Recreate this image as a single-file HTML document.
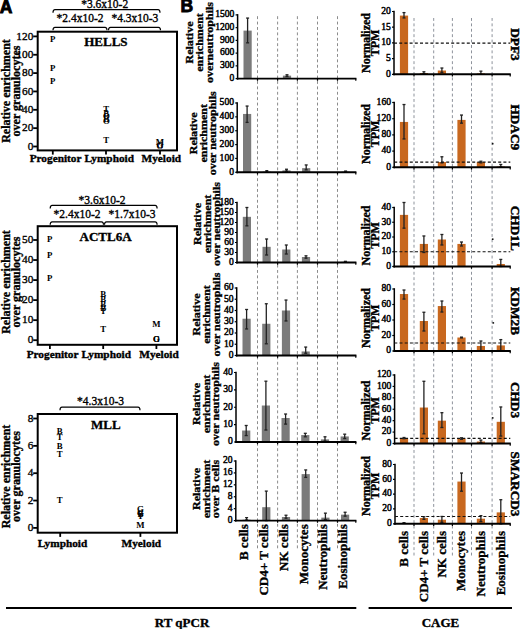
<!DOCTYPE html>
<html><head><meta charset="utf-8"><style>
html,body{margin:0;padding:0;background:#fff;}
svg{display:block;}
text{fill:#000;}
.b{font-family:"Liberation Serif",serif;font-weight:bold;}
.r{font-family:"Liberation Serif",serif;font-weight:normal;}
.s{font-family:"Liberation Sans",sans-serif;font-weight:bold;}
</style></head><body>
<svg width="520" height="629" viewBox="0 0 520 629">
<rect width="520" height="629" fill="#fff"/>
<text class="s" x="-0.30" y="12.60" font-size="17.5" stroke="#000" stroke-width="0.9">A</text>
<text class="s" x="180.60" y="12.20" font-size="17.5" stroke="#000" stroke-width="0.9">B</text>
<rect x="37.70" y="31.70" width="139.30" height="118.70" fill="none" stroke="#000" stroke-width="2"/>
<line x1="33.20" y1="146.50" x2="37.70" y2="146.50" stroke="#000" stroke-width="1.8"/>
<text class="r" x="33.30" y="149.70" font-size="11.3" text-anchor="end" stroke="#000" stroke-width="0.35">0</text>
<line x1="33.20" y1="128.15" x2="37.70" y2="128.15" stroke="#000" stroke-width="1.8"/>
<text class="r" x="33.30" y="131.35" font-size="11.3" text-anchor="end" stroke="#000" stroke-width="0.35">20</text>
<line x1="33.20" y1="109.80" x2="37.70" y2="109.80" stroke="#000" stroke-width="1.8"/>
<text class="r" x="33.30" y="113.00" font-size="11.3" text-anchor="end" stroke="#000" stroke-width="0.35">40</text>
<line x1="33.20" y1="91.45" x2="37.70" y2="91.45" stroke="#000" stroke-width="1.8"/>
<text class="r" x="33.30" y="94.65" font-size="11.3" text-anchor="end" stroke="#000" stroke-width="0.35">60</text>
<line x1="33.20" y1="73.10" x2="37.70" y2="73.10" stroke="#000" stroke-width="1.8"/>
<text class="r" x="33.30" y="76.30" font-size="11.3" text-anchor="end" stroke="#000" stroke-width="0.35">80</text>
<line x1="33.20" y1="54.75" x2="37.70" y2="54.75" stroke="#000" stroke-width="1.8"/>
<text class="r" x="33.30" y="57.95" font-size="11.3" text-anchor="end" stroke="#000" stroke-width="0.35">100</text>
<line x1="33.20" y1="36.40" x2="37.70" y2="36.40" stroke="#000" stroke-width="1.8"/>
<text class="r" x="33.30" y="39.60" font-size="11.3" text-anchor="end" stroke="#000" stroke-width="0.35">120</text>
<line x1="52.80" y1="150.40" x2="52.80" y2="154.60" stroke="#000" stroke-width="1.8"/>
<text class="b" x="55.60" y="162.20" font-size="11.3" text-anchor="middle" stroke="#000" stroke-width="0.35">Progenitor</text>
<line x1="106.00" y1="150.40" x2="106.00" y2="154.60" stroke="#000" stroke-width="1.8"/>
<text class="b" x="109.20" y="162.20" font-size="11.3" text-anchor="middle" stroke="#000" stroke-width="0.35">Lymphoid</text>
<line x1="160.00" y1="150.40" x2="160.00" y2="154.60" stroke="#000" stroke-width="1.8"/>
<text class="b" x="161.30" y="162.20" font-size="11.3" text-anchor="middle" stroke="#000" stroke-width="0.35">Myeloid</text>
<text class="b" x="84.20" y="45.60" font-size="13" stroke="#000" stroke-width="0.35">HELLS</text>
<text class="b" x="52.70" y="42.00" font-size="8.8" text-anchor="middle" stroke="#000" stroke-width="0.05">P</text>
<text class="b" x="52.70" y="70.50" font-size="8.8" text-anchor="middle" stroke="#000" stroke-width="0.05">P</text>
<text class="b" x="52.70" y="84.00" font-size="8.8" text-anchor="middle" stroke="#000" stroke-width="0.05">P</text>
<text class="b" x="106.30" y="111.60" font-size="8.8" text-anchor="middle" stroke="#000" stroke-width="0.05">T</text>
<text class="b" x="106.30" y="116.00" font-size="8.8" text-anchor="middle" stroke="#000" stroke-width="0.05">B</text>
<text class="b" x="106.30" y="119.00" font-size="8.8" text-anchor="middle" stroke="#000" stroke-width="0.05">O</text>
<text class="b" x="106.30" y="122.30" font-size="8.8" text-anchor="middle" stroke="#000" stroke-width="0.05">B</text>
<text class="b" x="106.30" y="123.80" font-size="8.8" text-anchor="middle" stroke="#000" stroke-width="0.05">O</text>
<text class="b" x="106.30" y="143.20" font-size="8.8" text-anchor="middle" stroke="#000" stroke-width="0.05">T</text>
<text class="b" x="160.00" y="144.50" font-size="8.8" text-anchor="middle" stroke="#000" stroke-width="0.05">M</text>
<text class="b" x="160.00" y="147.50" font-size="8.8" text-anchor="middle" stroke="#000" stroke-width="0.05">G</text>
<text class="b" x="160.00" y="148.50" font-size="8.8" text-anchor="middle" stroke="#000" stroke-width="0.05">O</text>
<text class="b" transform="translate(10.00,91.00) rotate(-90)" font-size="12" text-anchor="middle" stroke="#000" stroke-width="0.35">Relative enrichment</text>
<text class="b" transform="translate(19.60,91.00) rotate(-90)" font-size="12" text-anchor="middle" stroke="#000" stroke-width="0.35">over granulocytes</text>
<path d="M53.0,12.7 Q53.0,9.7 55.0,9.7 L158.0,9.7 Q160.0,9.7 160.0,12.7" stroke="#000" stroke-width="1.2" fill="none"/>
<path d="M53.0,30.3 Q53.0,27.3 55.0,27.3 L105.0,27.3 Q107.0,27.3 107.0,30.3" stroke="#000" stroke-width="1.2" fill="none"/>
<path d="M108.5,30.3 Q108.5,27.3 110.5,27.3 L158.5,27.3 Q160.5,27.3 160.5,30.3" stroke="#000" stroke-width="1.2" fill="none"/>
<text class="r" x="81.20" y="7.80" font-size="11.5" stroke="#000" stroke-width="0.35">*3.6x10-2</text>
<text class="r" x="56.60" y="22.20" font-size="11.5" stroke="#000" stroke-width="0.35">*2.4x10-2</text>
<text class="r" x="111.40" y="22.20" font-size="11.5" stroke="#000" stroke-width="0.35">*4.3x10-3</text>
<rect x="37.70" y="226.20" width="139.30" height="118.60" fill="none" stroke="#000" stroke-width="2"/>
<line x1="33.20" y1="340.20" x2="37.70" y2="340.20" stroke="#000" stroke-width="1.8"/>
<text class="r" x="33.30" y="343.40" font-size="11.3" text-anchor="end" stroke="#000" stroke-width="0.35">0</text>
<line x1="33.20" y1="320.16" x2="37.70" y2="320.16" stroke="#000" stroke-width="1.8"/>
<text class="r" x="33.30" y="323.36" font-size="11.3" text-anchor="end" stroke="#000" stroke-width="0.35">10</text>
<line x1="33.20" y1="300.12" x2="37.70" y2="300.12" stroke="#000" stroke-width="1.8"/>
<text class="r" x="33.30" y="303.32" font-size="11.3" text-anchor="end" stroke="#000" stroke-width="0.35">20</text>
<line x1="33.20" y1="280.08" x2="37.70" y2="280.08" stroke="#000" stroke-width="1.8"/>
<text class="r" x="33.30" y="283.28" font-size="11.3" text-anchor="end" stroke="#000" stroke-width="0.35">30</text>
<line x1="33.20" y1="260.04" x2="37.70" y2="260.04" stroke="#000" stroke-width="1.8"/>
<text class="r" x="33.30" y="263.24" font-size="11.3" text-anchor="end" stroke="#000" stroke-width="0.35">40</text>
<line x1="33.20" y1="240.00" x2="37.70" y2="240.00" stroke="#000" stroke-width="1.8"/>
<text class="r" x="33.30" y="243.20" font-size="11.3" text-anchor="end" stroke="#000" stroke-width="0.35">50</text>
<line x1="49.90" y1="344.80" x2="49.90" y2="349.00" stroke="#000" stroke-width="1.8"/>
<text class="b" x="52.60" y="358.40" font-size="11.3" text-anchor="middle" stroke="#000" stroke-width="0.35">Progenitor</text>
<line x1="103.20" y1="344.80" x2="103.20" y2="349.00" stroke="#000" stroke-width="1.8"/>
<text class="b" x="106.20" y="358.40" font-size="11.3" text-anchor="middle" stroke="#000" stroke-width="0.35">Lymphoid</text>
<line x1="156.40" y1="344.80" x2="156.40" y2="349.00" stroke="#000" stroke-width="1.8"/>
<text class="b" x="159.00" y="358.40" font-size="11.3" text-anchor="middle" stroke="#000" stroke-width="0.35">Myeloid</text>
<text class="b" x="79.60" y="240.50" font-size="13" stroke="#000" stroke-width="0.35">ACTL6A</text>
<text class="b" x="49.60" y="242.00" font-size="8.8" text-anchor="middle" stroke="#000" stroke-width="0.05">P</text>
<text class="b" x="49.60" y="258.30" font-size="8.8" text-anchor="middle" stroke="#000" stroke-width="0.05">P</text>
<text class="b" x="49.60" y="280.60" font-size="8.8" text-anchor="middle" stroke="#000" stroke-width="0.05">P</text>
<text class="b" x="103.30" y="297.00" font-size="8.8" text-anchor="middle" stroke="#000" stroke-width="0.05">B</text>
<text class="b" x="103.30" y="302.00" font-size="8.8" text-anchor="middle" stroke="#000" stroke-width="0.05">B</text>
<text class="b" x="103.30" y="306.50" font-size="8.8" text-anchor="middle" stroke="#000" stroke-width="0.05">B</text>
<text class="b" x="103.30" y="311.00" font-size="8.8" text-anchor="middle" stroke="#000" stroke-width="0.05">B</text>
<text class="b" x="103.30" y="313.50" font-size="8.8" text-anchor="middle" stroke="#000" stroke-width="0.05">T</text>
<text class="b" x="103.30" y="331.60" font-size="8.8" text-anchor="middle" stroke="#000" stroke-width="0.05">T</text>
<text class="b" x="156.30" y="327.30" font-size="8.8" text-anchor="middle" stroke="#000" stroke-width="0.05">M</text>
<text class="b" x="156.30" y="341.50" font-size="8.8" text-anchor="middle" stroke="#000" stroke-width="0.05">G</text>
<text class="b" x="156.30" y="341.50" font-size="8.8" text-anchor="middle" stroke="#000" stroke-width="0.05">O</text>
<text class="b" transform="translate(10.00,282.00) rotate(-90)" font-size="12" text-anchor="middle" stroke="#000" stroke-width="0.35">Relative enrichment</text>
<text class="b" transform="translate(19.60,282.00) rotate(-90)" font-size="12" text-anchor="middle" stroke="#000" stroke-width="0.35">over granulocytes</text>
<path d="M50.2,208.4 Q50.2,205.4 52.2,205.4 L155.1,205.4 Q157.1,205.4 157.1,208.4" stroke="#000" stroke-width="1.2" fill="none"/>
<path d="M50.2,224.8 Q50.2,221.8 52.2,221.8 L101.5,221.8 Q103.5,221.8 103.5,224.8" stroke="#000" stroke-width="1.2" fill="none"/>
<path d="M104.5,224.8 Q104.5,221.8 106.5,221.8 L155.1,221.8 Q157.1,221.8 157.1,224.8" stroke="#000" stroke-width="1.2" fill="none"/>
<text class="r" x="78.50" y="203.60" font-size="11.5" stroke="#000" stroke-width="0.35">*3.6x10-2</text>
<text class="r" x="53.60" y="218.20" font-size="11.5" stroke="#000" stroke-width="0.35">*2.4x10-2</text>
<text class="r" x="108.60" y="218.20" font-size="11.5" stroke="#000" stroke-width="0.35">*1.7x10-3</text>
<rect x="37.70" y="414.00" width="139.30" height="118.70" fill="none" stroke="#000" stroke-width="2"/>
<line x1="33.20" y1="527.90" x2="37.70" y2="527.90" stroke="#000" stroke-width="1.8"/>
<text class="r" x="33.30" y="531.10" font-size="11.3" text-anchor="end" stroke="#000" stroke-width="0.35">0</text>
<line x1="33.20" y1="500.55" x2="37.70" y2="500.55" stroke="#000" stroke-width="1.8"/>
<text class="r" x="33.30" y="503.75" font-size="11.3" text-anchor="end" stroke="#000" stroke-width="0.35">2</text>
<line x1="33.20" y1="473.20" x2="37.70" y2="473.20" stroke="#000" stroke-width="1.8"/>
<text class="r" x="33.30" y="476.40" font-size="11.3" text-anchor="end" stroke="#000" stroke-width="0.35">4</text>
<line x1="33.20" y1="445.85" x2="37.70" y2="445.85" stroke="#000" stroke-width="1.8"/>
<text class="r" x="33.30" y="449.05" font-size="11.3" text-anchor="end" stroke="#000" stroke-width="0.35">6</text>
<line x1="33.20" y1="418.50" x2="37.70" y2="418.50" stroke="#000" stroke-width="1.8"/>
<text class="r" x="33.30" y="421.70" font-size="11.3" text-anchor="end" stroke="#000" stroke-width="0.35">8</text>
<line x1="60.20" y1="532.70" x2="60.20" y2="536.90" stroke="#000" stroke-width="1.8"/>
<text class="b" x="62.50" y="547.00" font-size="11.3" text-anchor="middle" stroke="#000" stroke-width="0.35">Lymphoid</text>
<line x1="140.40" y1="532.70" x2="140.40" y2="536.90" stroke="#000" stroke-width="1.8"/>
<text class="b" x="141.30" y="547.00" font-size="11.3" text-anchor="middle" stroke="#000" stroke-width="0.35">Myeloid</text>
<text class="b" x="91.00" y="428.70" font-size="13" stroke="#000" stroke-width="0.35">MLL</text>
<text class="b" x="59.80" y="434.30" font-size="8.8" text-anchor="middle" stroke="#000" stroke-width="0.05">B</text>
<text class="b" x="59.80" y="439.50" font-size="8.8" text-anchor="middle" stroke="#000" stroke-width="0.05">T</text>
<text class="b" x="59.80" y="449.00" font-size="8.8" text-anchor="middle" stroke="#000" stroke-width="0.05">B</text>
<text class="b" x="59.80" y="456.80" font-size="8.8" text-anchor="middle" stroke="#000" stroke-width="0.05">T</text>
<text class="b" x="59.80" y="503.00" font-size="8.8" text-anchor="middle" stroke="#000" stroke-width="0.05">T</text>
<text class="b" x="140.40" y="512.20" font-size="8.8" text-anchor="middle" stroke="#000" stroke-width="0.05">G</text>
<text class="b" x="140.40" y="516.50" font-size="8.8" text-anchor="middle" stroke="#000" stroke-width="0.05">B</text>
<text class="b" x="140.40" y="516.00" font-size="8.8" text-anchor="middle" stroke="#000" stroke-width="0.05">G</text>
<text class="b" x="140.40" y="518.80" font-size="8.8" text-anchor="middle" stroke="#000" stroke-width="0.05">T</text>
<text class="b" x="140.40" y="527.70" font-size="8.8" text-anchor="middle" stroke="#000" stroke-width="0.05">M</text>
<text class="b" transform="translate(10.00,476.50) rotate(-90)" font-size="12" text-anchor="middle" stroke="#000" stroke-width="0.35">Relative enrichment</text>
<text class="b" transform="translate(19.60,476.50) rotate(-90)" font-size="12" text-anchor="middle" stroke="#000" stroke-width="0.35">over granulocytes</text>
<path d="M60.0,410.2 Q60.0,407.2 62.0,407.2 L138.0,407.2 Q140.0,407.2 140.0,410.2" stroke="#000" stroke-width="1.2" fill="none"/>
<text class="r" x="77.00" y="404.80" font-size="11.5" stroke="#000" stroke-width="0.35">*4.3x10-3</text>
<line x1="257.50" y1="16.20" x2="257.50" y2="549.00" stroke="#777" stroke-width="0.85" stroke-dasharray="2.9,2.5"/>
<line x1="277.60" y1="16.20" x2="277.60" y2="549.00" stroke="#777" stroke-width="0.85" stroke-dasharray="2.9,2.5"/>
<line x1="297.40" y1="16.20" x2="297.40" y2="549.00" stroke="#777" stroke-width="0.85" stroke-dasharray="2.9,2.5"/>
<line x1="317.50" y1="16.20" x2="317.50" y2="549.00" stroke="#777" stroke-width="0.85" stroke-dasharray="2.9,2.5"/>
<line x1="337.50" y1="16.20" x2="337.50" y2="549.00" stroke="#777" stroke-width="0.85" stroke-dasharray="2.9,2.5"/>
<line x1="414.00" y1="18.00" x2="414.00" y2="556.00" stroke="#7a808a" stroke-width="0.85" stroke-dasharray="2.9,2.5"/>
<line x1="433.70" y1="18.00" x2="433.70" y2="556.00" stroke="#7a808a" stroke-width="0.85" stroke-dasharray="2.9,2.5"/>
<line x1="452.40" y1="18.00" x2="452.40" y2="556.00" stroke="#7a808a" stroke-width="0.85" stroke-dasharray="2.9,2.5"/>
<line x1="471.50" y1="18.00" x2="471.50" y2="556.00" stroke="#7a808a" stroke-width="0.85" stroke-dasharray="2.9,2.5"/>
<line x1="492.10" y1="18.00" x2="492.10" y2="556.00" stroke="#7a808a" stroke-width="0.85" stroke-dasharray="2.9,2.5"/>
<rect x="243.50" y="30.61" width="8.20" height="47.99" fill="#7b7b7b"/>
<line x1="247.60" y1="18.08" x2="247.60" y2="42.84" stroke="#222" stroke-width="1.3"/>
<line x1="246.10" y1="18.08" x2="249.10" y2="18.08" stroke="#222" stroke-width="1.3"/>
<line x1="246.10" y1="42.84" x2="249.10" y2="42.84" stroke="#222" stroke-width="1.3"/>
<rect x="263.20" y="78.47" width="8.20" height="0.13" fill="#7b7b7b"/>
<rect x="282.90" y="75.63" width="8.20" height="2.97" fill="#7b7b7b"/>
<line x1="287.00" y1="74.78" x2="287.00" y2="76.48" stroke="#222" stroke-width="1.3"/>
<line x1="285.50" y1="74.78" x2="288.50" y2="74.78" stroke="#222" stroke-width="1.3"/>
<line x1="285.50" y1="76.48" x2="288.50" y2="76.48" stroke="#222" stroke-width="1.3"/>
<rect x="302.60" y="78.52" width="8.20" height="0.08" fill="#7b7b7b"/>
<rect x="342.00" y="78.52" width="8.20" height="0.08" fill="#7b7b7b"/>
<line x1="237.60" y1="14.10" x2="237.60" y2="79.60" stroke="#000" stroke-width="1.5"/>
<line x1="236.80" y1="78.60" x2="356.40" y2="78.60" stroke="#000" stroke-width="1.9"/>
<line x1="257.50" y1="78.60" x2="257.50" y2="80.80" stroke="#000" stroke-width="1.2"/>
<line x1="277.60" y1="78.60" x2="277.60" y2="80.80" stroke="#000" stroke-width="1.2"/>
<line x1="297.40" y1="78.60" x2="297.40" y2="80.80" stroke="#000" stroke-width="1.2"/>
<line x1="317.50" y1="78.60" x2="317.50" y2="80.80" stroke="#000" stroke-width="1.2"/>
<line x1="337.50" y1="78.60" x2="337.50" y2="80.80" stroke="#000" stroke-width="1.2"/>
<line x1="355.80" y1="78.60" x2="355.80" y2="80.80" stroke="#000" stroke-width="1.2"/>
<line x1="235.60" y1="78.60" x2="237.60" y2="78.60" stroke="#000" stroke-width="1.2"/>
<text class="r" x="234.40" y="80.90" font-size="9.6" text-anchor="end" stroke="#000" stroke-width="0.45">0</text>
<line x1="235.60" y1="65.86" x2="237.60" y2="65.86" stroke="#000" stroke-width="1.2"/>
<text class="r" x="234.40" y="68.16" font-size="9.6" text-anchor="end" stroke="#000" stroke-width="0.45">300</text>
<line x1="235.60" y1="53.12" x2="237.60" y2="53.12" stroke="#000" stroke-width="1.2"/>
<text class="r" x="234.40" y="55.42" font-size="9.6" text-anchor="end" stroke="#000" stroke-width="0.45">600</text>
<line x1="235.60" y1="40.38" x2="237.60" y2="40.38" stroke="#000" stroke-width="1.2"/>
<text class="r" x="234.40" y="42.68" font-size="9.6" text-anchor="end" stroke="#000" stroke-width="0.45">900</text>
<line x1="235.60" y1="27.64" x2="237.60" y2="27.64" stroke="#000" stroke-width="1.2"/>
<text class="r" x="234.40" y="29.94" font-size="9.6" text-anchor="end" stroke="#000" stroke-width="0.45">1200</text>
<line x1="235.60" y1="14.90" x2="237.60" y2="14.90" stroke="#000" stroke-width="1.2"/>
<text class="r" x="234.40" y="17.20" font-size="9.6" text-anchor="end" stroke="#000" stroke-width="0.45">1500</text>
<rect x="243.00" y="113.95" width="8.20" height="58.35" fill="#7b7b7b"/>
<line x1="247.10" y1="106.05" x2="247.10" y2="122.40" stroke="#222" stroke-width="1.3"/>
<line x1="245.60" y1="106.05" x2="248.60" y2="106.05" stroke="#222" stroke-width="1.3"/>
<line x1="245.60" y1="122.40" x2="248.60" y2="122.40" stroke="#222" stroke-width="1.3"/>
<rect x="262.70" y="171.61" width="8.20" height="0.69" fill="#7b7b7b"/>
<line x1="266.80" y1="170.64" x2="266.80" y2="172.02" stroke="#222" stroke-width="1.3"/>
<line x1="265.30" y1="170.64" x2="268.30" y2="170.64" stroke="#222" stroke-width="1.3"/>
<line x1="265.30" y1="172.02" x2="268.30" y2="172.02" stroke="#222" stroke-width="1.3"/>
<rect x="282.40" y="170.36" width="8.20" height="1.94" fill="#7b7b7b"/>
<line x1="286.50" y1="169.25" x2="286.50" y2="171.19" stroke="#222" stroke-width="1.3"/>
<line x1="285.00" y1="169.25" x2="288.00" y2="169.25" stroke="#222" stroke-width="1.3"/>
<line x1="285.00" y1="171.19" x2="288.00" y2="171.19" stroke="#222" stroke-width="1.3"/>
<rect x="302.10" y="168.14" width="8.20" height="4.16" fill="#7b7b7b"/>
<line x1="306.20" y1="164.95" x2="306.20" y2="169.81" stroke="#222" stroke-width="1.3"/>
<line x1="304.70" y1="164.95" x2="307.70" y2="164.95" stroke="#222" stroke-width="1.3"/>
<line x1="304.70" y1="169.81" x2="307.70" y2="169.81" stroke="#222" stroke-width="1.3"/>
<rect x="321.80" y="172.16" width="8.20" height="0.14" fill="#7b7b7b"/>
<rect x="341.50" y="171.61" width="8.20" height="0.69" fill="#7b7b7b"/>
<line x1="345.60" y1="171.05" x2="345.60" y2="172.02" stroke="#222" stroke-width="1.3"/>
<line x1="344.10" y1="171.05" x2="347.10" y2="171.05" stroke="#222" stroke-width="1.3"/>
<line x1="344.10" y1="172.02" x2="347.10" y2="172.02" stroke="#222" stroke-width="1.3"/>
<line x1="237.20" y1="102.20" x2="237.20" y2="173.30" stroke="#000" stroke-width="1.5"/>
<line x1="236.40" y1="172.30" x2="356.40" y2="172.30" stroke="#000" stroke-width="1.9"/>
<line x1="257.50" y1="172.30" x2="257.50" y2="174.50" stroke="#000" stroke-width="1.2"/>
<line x1="277.60" y1="172.30" x2="277.60" y2="174.50" stroke="#000" stroke-width="1.2"/>
<line x1="297.40" y1="172.30" x2="297.40" y2="174.50" stroke="#000" stroke-width="1.2"/>
<line x1="317.50" y1="172.30" x2="317.50" y2="174.50" stroke="#000" stroke-width="1.2"/>
<line x1="337.50" y1="172.30" x2="337.50" y2="174.50" stroke="#000" stroke-width="1.2"/>
<line x1="355.80" y1="172.30" x2="355.80" y2="174.50" stroke="#000" stroke-width="1.2"/>
<line x1="235.20" y1="172.30" x2="237.20" y2="172.30" stroke="#000" stroke-width="1.2"/>
<text class="r" x="234.00" y="174.60" font-size="9.6" text-anchor="end" stroke="#000" stroke-width="0.45">0</text>
<line x1="235.20" y1="158.44" x2="237.20" y2="158.44" stroke="#000" stroke-width="1.2"/>
<text class="r" x="234.00" y="160.74" font-size="9.6" text-anchor="end" stroke="#000" stroke-width="0.45">100</text>
<line x1="235.20" y1="144.58" x2="237.20" y2="144.58" stroke="#000" stroke-width="1.2"/>
<text class="r" x="234.00" y="146.88" font-size="9.6" text-anchor="end" stroke="#000" stroke-width="0.45">200</text>
<line x1="235.20" y1="130.72" x2="237.20" y2="130.72" stroke="#000" stroke-width="1.2"/>
<text class="r" x="234.00" y="133.02" font-size="9.6" text-anchor="end" stroke="#000" stroke-width="0.45">300</text>
<line x1="235.20" y1="116.86" x2="237.20" y2="116.86" stroke="#000" stroke-width="1.2"/>
<text class="r" x="234.00" y="119.16" font-size="9.6" text-anchor="end" stroke="#000" stroke-width="0.45">400</text>
<line x1="235.20" y1="103.00" x2="237.20" y2="103.00" stroke="#000" stroke-width="1.2"/>
<text class="r" x="234.00" y="105.30" font-size="9.6" text-anchor="end" stroke="#000" stroke-width="0.45">500</text>
<rect x="242.80" y="216.83" width="8.20" height="45.67" fill="#7b7b7b"/>
<line x1="246.90" y1="207.50" x2="246.90" y2="225.83" stroke="#222" stroke-width="1.3"/>
<line x1="245.40" y1="207.50" x2="248.40" y2="207.50" stroke="#222" stroke-width="1.3"/>
<line x1="245.40" y1="225.83" x2="248.40" y2="225.83" stroke="#222" stroke-width="1.3"/>
<rect x="262.50" y="246.83" width="8.20" height="15.67" fill="#7b7b7b"/>
<line x1="266.60" y1="239.00" x2="266.60" y2="255.00" stroke="#222" stroke-width="1.3"/>
<line x1="265.10" y1="239.00" x2="268.10" y2="239.00" stroke="#222" stroke-width="1.3"/>
<line x1="265.10" y1="255.00" x2="268.10" y2="255.00" stroke="#222" stroke-width="1.3"/>
<rect x="282.20" y="249.50" width="8.20" height="13.00" fill="#7b7b7b"/>
<line x1="286.30" y1="245.00" x2="286.30" y2="254.00" stroke="#222" stroke-width="1.3"/>
<line x1="284.80" y1="245.00" x2="287.80" y2="245.00" stroke="#222" stroke-width="1.3"/>
<line x1="284.80" y1="254.00" x2="287.80" y2="254.00" stroke="#222" stroke-width="1.3"/>
<rect x="301.90" y="257.00" width="8.20" height="5.50" fill="#7b7b7b"/>
<line x1="306.00" y1="255.83" x2="306.00" y2="258.17" stroke="#222" stroke-width="1.3"/>
<line x1="304.50" y1="255.83" x2="307.50" y2="255.83" stroke="#222" stroke-width="1.3"/>
<line x1="304.50" y1="258.17" x2="307.50" y2="258.17" stroke="#222" stroke-width="1.3"/>
<rect x="321.60" y="262.33" width="8.20" height="0.17" fill="#7b7b7b"/>
<rect x="341.30" y="261.83" width="8.20" height="0.67" fill="#7b7b7b"/>
<line x1="345.40" y1="261.33" x2="345.40" y2="262.17" stroke="#222" stroke-width="1.3"/>
<line x1="343.90" y1="261.33" x2="346.90" y2="261.33" stroke="#222" stroke-width="1.3"/>
<line x1="343.90" y1="262.17" x2="346.90" y2="262.17" stroke="#222" stroke-width="1.3"/>
<line x1="237.00" y1="201.70" x2="237.00" y2="263.50" stroke="#000" stroke-width="1.5"/>
<line x1="236.20" y1="262.50" x2="356.40" y2="262.50" stroke="#000" stroke-width="1.9"/>
<line x1="257.50" y1="262.50" x2="257.50" y2="264.70" stroke="#000" stroke-width="1.2"/>
<line x1="277.60" y1="262.50" x2="277.60" y2="264.70" stroke="#000" stroke-width="1.2"/>
<line x1="297.40" y1="262.50" x2="297.40" y2="264.70" stroke="#000" stroke-width="1.2"/>
<line x1="317.50" y1="262.50" x2="317.50" y2="264.70" stroke="#000" stroke-width="1.2"/>
<line x1="337.50" y1="262.50" x2="337.50" y2="264.70" stroke="#000" stroke-width="1.2"/>
<line x1="355.80" y1="262.50" x2="355.80" y2="264.70" stroke="#000" stroke-width="1.2"/>
<line x1="235.00" y1="262.50" x2="237.00" y2="262.50" stroke="#000" stroke-width="1.2"/>
<text class="r" x="233.80" y="264.80" font-size="9.6" text-anchor="end" stroke="#000" stroke-width="0.45">0</text>
<line x1="235.00" y1="252.50" x2="237.00" y2="252.50" stroke="#000" stroke-width="1.2"/>
<text class="r" x="233.80" y="254.80" font-size="9.6" text-anchor="end" stroke="#000" stroke-width="0.45">30</text>
<line x1="235.00" y1="242.50" x2="237.00" y2="242.50" stroke="#000" stroke-width="1.2"/>
<text class="r" x="233.80" y="244.80" font-size="9.6" text-anchor="end" stroke="#000" stroke-width="0.45">60</text>
<line x1="235.00" y1="232.50" x2="237.00" y2="232.50" stroke="#000" stroke-width="1.2"/>
<text class="r" x="233.80" y="234.80" font-size="9.6" text-anchor="end" stroke="#000" stroke-width="0.45">90</text>
<line x1="235.00" y1="222.50" x2="237.00" y2="222.50" stroke="#000" stroke-width="1.2"/>
<text class="r" x="233.80" y="224.80" font-size="9.6" text-anchor="end" stroke="#000" stroke-width="0.45">120</text>
<line x1="235.00" y1="212.50" x2="237.00" y2="212.50" stroke="#000" stroke-width="1.2"/>
<text class="r" x="233.80" y="214.80" font-size="9.6" text-anchor="end" stroke="#000" stroke-width="0.45">150</text>
<line x1="235.00" y1="202.50" x2="237.00" y2="202.50" stroke="#000" stroke-width="1.2"/>
<text class="r" x="233.80" y="204.80" font-size="9.6" text-anchor="end" stroke="#000" stroke-width="0.45">180</text>
<rect x="242.50" y="318.71" width="8.20" height="36.79" fill="#7b7b7b"/>
<line x1="246.60" y1="309.49" x2="246.60" y2="328.95" stroke="#222" stroke-width="1.3"/>
<line x1="245.10" y1="309.49" x2="248.10" y2="309.49" stroke="#222" stroke-width="1.3"/>
<line x1="245.10" y1="328.95" x2="248.10" y2="328.95" stroke="#222" stroke-width="1.3"/>
<rect x="262.20" y="323.77" width="8.20" height="31.73" fill="#7b7b7b"/>
<line x1="266.30" y1="303.75" x2="266.30" y2="343.80" stroke="#222" stroke-width="1.3"/>
<line x1="264.80" y1="303.75" x2="267.80" y2="303.75" stroke="#222" stroke-width="1.3"/>
<line x1="264.80" y1="343.80" x2="267.80" y2="343.80" stroke="#222" stroke-width="1.3"/>
<rect x="281.90" y="310.50" width="8.20" height="45.00" fill="#7b7b7b"/>
<line x1="286.00" y1="300.04" x2="286.00" y2="320.96" stroke="#222" stroke-width="1.3"/>
<line x1="284.50" y1="300.04" x2="287.50" y2="300.04" stroke="#222" stroke-width="1.3"/>
<line x1="284.50" y1="320.96" x2="287.50" y2="320.96" stroke="#222" stroke-width="1.3"/>
<rect x="301.60" y="351.45" width="8.20" height="4.05" fill="#7b7b7b"/>
<line x1="305.70" y1="347.06" x2="305.70" y2="353.25" stroke="#222" stroke-width="1.3"/>
<line x1="304.20" y1="347.06" x2="307.20" y2="347.06" stroke="#222" stroke-width="1.3"/>
<line x1="304.20" y1="353.25" x2="307.20" y2="353.25" stroke="#222" stroke-width="1.3"/>
<rect x="321.30" y="355.16" width="8.20" height="0.34" fill="#7b7b7b"/>
<rect x="341.00" y="355.05" width="8.20" height="0.45" fill="#7b7b7b"/>
<line x1="236.70" y1="287.20" x2="236.70" y2="356.50" stroke="#000" stroke-width="1.5"/>
<line x1="235.90" y1="355.50" x2="356.40" y2="355.50" stroke="#000" stroke-width="1.9"/>
<line x1="257.50" y1="355.50" x2="257.50" y2="357.70" stroke="#000" stroke-width="1.2"/>
<line x1="277.60" y1="355.50" x2="277.60" y2="357.70" stroke="#000" stroke-width="1.2"/>
<line x1="297.40" y1="355.50" x2="297.40" y2="357.70" stroke="#000" stroke-width="1.2"/>
<line x1="317.50" y1="355.50" x2="317.50" y2="357.70" stroke="#000" stroke-width="1.2"/>
<line x1="337.50" y1="355.50" x2="337.50" y2="357.70" stroke="#000" stroke-width="1.2"/>
<line x1="355.80" y1="355.50" x2="355.80" y2="357.70" stroke="#000" stroke-width="1.2"/>
<line x1="234.70" y1="355.50" x2="236.70" y2="355.50" stroke="#000" stroke-width="1.2"/>
<text class="r" x="233.50" y="357.80" font-size="9.6" text-anchor="end" stroke="#000" stroke-width="0.45">0</text>
<line x1="234.70" y1="344.25" x2="236.70" y2="344.25" stroke="#000" stroke-width="1.2"/>
<text class="r" x="233.50" y="346.55" font-size="9.6" text-anchor="end" stroke="#000" stroke-width="0.45">10</text>
<line x1="234.70" y1="333.00" x2="236.70" y2="333.00" stroke="#000" stroke-width="1.2"/>
<text class="r" x="233.50" y="335.30" font-size="9.6" text-anchor="end" stroke="#000" stroke-width="0.45">20</text>
<line x1="234.70" y1="321.75" x2="236.70" y2="321.75" stroke="#000" stroke-width="1.2"/>
<text class="r" x="233.50" y="324.05" font-size="9.6" text-anchor="end" stroke="#000" stroke-width="0.45">30</text>
<line x1="234.70" y1="310.50" x2="236.70" y2="310.50" stroke="#000" stroke-width="1.2"/>
<text class="r" x="233.50" y="312.80" font-size="9.6" text-anchor="end" stroke="#000" stroke-width="0.45">40</text>
<line x1="234.70" y1="299.25" x2="236.70" y2="299.25" stroke="#000" stroke-width="1.2"/>
<text class="r" x="233.50" y="301.55" font-size="9.6" text-anchor="end" stroke="#000" stroke-width="0.45">50</text>
<line x1="234.70" y1="288.00" x2="236.70" y2="288.00" stroke="#000" stroke-width="1.2"/>
<text class="r" x="233.50" y="290.30" font-size="9.6" text-anchor="end" stroke="#000" stroke-width="0.45">60</text>
<rect x="242.10" y="430.53" width="8.20" height="11.47" fill="#7b7b7b"/>
<line x1="246.20" y1="425.49" x2="246.20" y2="435.57" stroke="#222" stroke-width="1.3"/>
<line x1="244.70" y1="425.49" x2="247.70" y2="425.49" stroke="#222" stroke-width="1.3"/>
<line x1="244.70" y1="435.57" x2="247.70" y2="435.57" stroke="#222" stroke-width="1.3"/>
<rect x="261.80" y="405.51" width="8.20" height="36.49" fill="#7b7b7b"/>
<line x1="265.90" y1="381.19" x2="265.90" y2="430.01" stroke="#222" stroke-width="1.3"/>
<line x1="264.40" y1="381.19" x2="267.40" y2="381.19" stroke="#222" stroke-width="1.3"/>
<line x1="264.40" y1="430.01" x2="267.40" y2="430.01" stroke="#222" stroke-width="1.3"/>
<rect x="281.50" y="418.02" width="8.20" height="23.98" fill="#7b7b7b"/>
<line x1="285.60" y1="414.03" x2="285.60" y2="424.10" stroke="#222" stroke-width="1.3"/>
<line x1="284.10" y1="414.03" x2="287.10" y2="414.03" stroke="#222" stroke-width="1.3"/>
<line x1="284.10" y1="424.10" x2="287.10" y2="424.10" stroke="#222" stroke-width="1.3"/>
<rect x="301.20" y="435.05" width="8.20" height="6.95" fill="#7b7b7b"/>
<line x1="305.30" y1="433.31" x2="305.30" y2="436.79" stroke="#222" stroke-width="1.3"/>
<line x1="303.80" y1="433.31" x2="306.80" y2="433.31" stroke="#222" stroke-width="1.3"/>
<line x1="303.80" y1="436.79" x2="306.80" y2="436.79" stroke="#222" stroke-width="1.3"/>
<rect x="320.90" y="439.39" width="8.20" height="2.61" fill="#7b7b7b"/>
<line x1="325.00" y1="436.79" x2="325.00" y2="441.13" stroke="#222" stroke-width="1.3"/>
<line x1="323.50" y1="436.79" x2="326.50" y2="436.79" stroke="#222" stroke-width="1.3"/>
<line x1="323.50" y1="441.13" x2="326.50" y2="441.13" stroke="#222" stroke-width="1.3"/>
<rect x="340.60" y="436.44" width="8.20" height="5.56" fill="#7b7b7b"/>
<line x1="344.70" y1="434.18" x2="344.70" y2="438.52" stroke="#222" stroke-width="1.3"/>
<line x1="343.20" y1="434.18" x2="346.20" y2="434.18" stroke="#222" stroke-width="1.3"/>
<line x1="343.20" y1="438.52" x2="346.20" y2="438.52" stroke="#222" stroke-width="1.3"/>
<line x1="236.00" y1="371.70" x2="236.00" y2="443.00" stroke="#000" stroke-width="1.5"/>
<line x1="235.20" y1="442.00" x2="356.40" y2="442.00" stroke="#000" stroke-width="1.9"/>
<line x1="257.50" y1="442.00" x2="257.50" y2="444.20" stroke="#000" stroke-width="1.2"/>
<line x1="277.60" y1="442.00" x2="277.60" y2="444.20" stroke="#000" stroke-width="1.2"/>
<line x1="297.40" y1="442.00" x2="297.40" y2="444.20" stroke="#000" stroke-width="1.2"/>
<line x1="317.50" y1="442.00" x2="317.50" y2="444.20" stroke="#000" stroke-width="1.2"/>
<line x1="337.50" y1="442.00" x2="337.50" y2="444.20" stroke="#000" stroke-width="1.2"/>
<line x1="355.80" y1="442.00" x2="355.80" y2="444.20" stroke="#000" stroke-width="1.2"/>
<line x1="234.00" y1="442.00" x2="236.00" y2="442.00" stroke="#000" stroke-width="1.2"/>
<text class="r" x="232.80" y="444.30" font-size="9.6" text-anchor="end" stroke="#000" stroke-width="0.45">0</text>
<line x1="234.00" y1="424.62" x2="236.00" y2="424.62" stroke="#000" stroke-width="1.2"/>
<text class="r" x="232.80" y="426.93" font-size="9.6" text-anchor="end" stroke="#000" stroke-width="0.45">10</text>
<line x1="234.00" y1="407.25" x2="236.00" y2="407.25" stroke="#000" stroke-width="1.2"/>
<text class="r" x="232.80" y="409.55" font-size="9.6" text-anchor="end" stroke="#000" stroke-width="0.45">20</text>
<line x1="234.00" y1="389.88" x2="236.00" y2="389.88" stroke="#000" stroke-width="1.2"/>
<text class="r" x="232.80" y="392.18" font-size="9.6" text-anchor="end" stroke="#000" stroke-width="0.45">30</text>
<line x1="234.00" y1="372.50" x2="236.00" y2="372.50" stroke="#000" stroke-width="1.2"/>
<text class="r" x="232.80" y="374.80" font-size="9.6" text-anchor="end" stroke="#000" stroke-width="0.45">40</text>
<rect x="242.50" y="519.71" width="8.20" height="0.89" fill="#7b7b7b"/>
<line x1="246.60" y1="517.62" x2="246.60" y2="520.00" stroke="#222" stroke-width="1.3"/>
<line x1="245.10" y1="517.62" x2="248.10" y2="517.62" stroke="#222" stroke-width="1.3"/>
<line x1="245.10" y1="520.00" x2="248.10" y2="520.00" stroke="#222" stroke-width="1.3"/>
<rect x="262.20" y="507.19" width="8.20" height="13.41" fill="#7b7b7b"/>
<line x1="266.30" y1="491.10" x2="266.30" y2="520.60" stroke="#222" stroke-width="1.3"/>
<line x1="264.80" y1="491.10" x2="267.80" y2="491.10" stroke="#222" stroke-width="1.3"/>
<line x1="264.80" y1="520.60" x2="267.80" y2="520.60" stroke="#222" stroke-width="1.3"/>
<rect x="281.90" y="517.02" width="8.20" height="3.58" fill="#7b7b7b"/>
<line x1="286.00" y1="515.24" x2="286.00" y2="518.22" stroke="#222" stroke-width="1.3"/>
<line x1="284.50" y1="515.24" x2="287.50" y2="515.24" stroke="#222" stroke-width="1.3"/>
<line x1="284.50" y1="518.22" x2="287.50" y2="518.22" stroke="#222" stroke-width="1.3"/>
<rect x="301.60" y="474.11" width="8.20" height="46.49" fill="#7b7b7b"/>
<line x1="305.70" y1="469.94" x2="305.70" y2="477.39" stroke="#222" stroke-width="1.3"/>
<line x1="304.20" y1="469.94" x2="307.20" y2="469.94" stroke="#222" stroke-width="1.3"/>
<line x1="304.20" y1="477.39" x2="307.20" y2="477.39" stroke="#222" stroke-width="1.3"/>
<rect x="321.30" y="517.62" width="8.20" height="2.98" fill="#7b7b7b"/>
<line x1="325.40" y1="513.15" x2="325.40" y2="519.71" stroke="#222" stroke-width="1.3"/>
<line x1="323.90" y1="513.15" x2="326.90" y2="513.15" stroke="#222" stroke-width="1.3"/>
<line x1="323.90" y1="519.71" x2="326.90" y2="519.71" stroke="#222" stroke-width="1.3"/>
<rect x="341.00" y="514.64" width="8.20" height="5.96" fill="#7b7b7b"/>
<line x1="345.10" y1="512.26" x2="345.10" y2="516.13" stroke="#222" stroke-width="1.3"/>
<line x1="343.60" y1="512.26" x2="346.60" y2="512.26" stroke="#222" stroke-width="1.3"/>
<line x1="343.60" y1="516.13" x2="346.60" y2="516.13" stroke="#222" stroke-width="1.3"/>
<line x1="235.80" y1="460.20" x2="235.80" y2="521.60" stroke="#000" stroke-width="1.5"/>
<line x1="235.00" y1="520.60" x2="356.40" y2="520.60" stroke="#000" stroke-width="1.9"/>
<line x1="257.50" y1="520.60" x2="257.50" y2="522.80" stroke="#000" stroke-width="1.2"/>
<line x1="277.60" y1="520.60" x2="277.60" y2="522.80" stroke="#000" stroke-width="1.2"/>
<line x1="297.40" y1="520.60" x2="297.40" y2="522.80" stroke="#000" stroke-width="1.2"/>
<line x1="317.50" y1="520.60" x2="317.50" y2="522.80" stroke="#000" stroke-width="1.2"/>
<line x1="337.50" y1="520.60" x2="337.50" y2="522.80" stroke="#000" stroke-width="1.2"/>
<line x1="355.80" y1="520.60" x2="355.80" y2="522.80" stroke="#000" stroke-width="1.2"/>
<line x1="233.80" y1="520.60" x2="235.80" y2="520.60" stroke="#000" stroke-width="1.2"/>
<text class="r" x="232.60" y="522.90" font-size="9.6" text-anchor="end" stroke="#000" stroke-width="0.45">0</text>
<line x1="233.80" y1="508.68" x2="235.80" y2="508.68" stroke="#000" stroke-width="1.2"/>
<text class="r" x="232.60" y="510.98" font-size="9.6" text-anchor="end" stroke="#000" stroke-width="0.45">4</text>
<line x1="233.80" y1="496.76" x2="235.80" y2="496.76" stroke="#000" stroke-width="1.2"/>
<text class="r" x="232.60" y="499.06" font-size="9.6" text-anchor="end" stroke="#000" stroke-width="0.45">8</text>
<line x1="233.80" y1="484.84" x2="235.80" y2="484.84" stroke="#000" stroke-width="1.2"/>
<text class="r" x="232.60" y="487.14" font-size="9.6" text-anchor="end" stroke="#000" stroke-width="0.45">12</text>
<line x1="233.80" y1="472.92" x2="235.80" y2="472.92" stroke="#000" stroke-width="1.2"/>
<text class="r" x="232.60" y="475.22" font-size="9.6" text-anchor="end" stroke="#000" stroke-width="0.45">16</text>
<line x1="233.80" y1="461.00" x2="235.80" y2="461.00" stroke="#000" stroke-width="1.2"/>
<text class="r" x="232.60" y="463.30" font-size="9.6" text-anchor="end" stroke="#000" stroke-width="0.45">20</text>
<rect x="399.90" y="15.58" width="8.20" height="58.72" fill="#c8681f"/>
<line x1="404.00" y1="12.60" x2="404.00" y2="17.94" stroke="#222" stroke-width="1.3"/>
<line x1="402.50" y1="12.60" x2="405.50" y2="12.60" stroke="#222" stroke-width="1.3"/>
<line x1="402.50" y1="17.94" x2="405.50" y2="17.94" stroke="#222" stroke-width="1.3"/>
<rect x="419.80" y="73.04" width="8.20" height="1.26" fill="#c8681f"/>
<line x1="423.90" y1="71.79" x2="423.90" y2="73.67" stroke="#222" stroke-width="1.3"/>
<line x1="422.40" y1="71.79" x2="425.40" y2="71.79" stroke="#222" stroke-width="1.3"/>
<line x1="422.40" y1="73.67" x2="425.40" y2="73.67" stroke="#222" stroke-width="1.3"/>
<rect x="437.80" y="70.53" width="8.20" height="3.77" fill="#c8681f"/>
<line x1="441.90" y1="68.02" x2="441.90" y2="72.42" stroke="#222" stroke-width="1.3"/>
<line x1="440.40" y1="68.02" x2="443.40" y2="68.02" stroke="#222" stroke-width="1.3"/>
<line x1="440.40" y1="72.42" x2="443.40" y2="72.42" stroke="#222" stroke-width="1.3"/>
<rect x="476.80" y="73.36" width="8.20" height="0.94" fill="#c8681f"/>
<line x1="480.90" y1="71.16" x2="480.90" y2="74.30" stroke="#222" stroke-width="1.3"/>
<line x1="479.40" y1="71.16" x2="482.40" y2="71.16" stroke="#222" stroke-width="1.3"/>
<line x1="479.40" y1="74.30" x2="482.40" y2="74.30" stroke="#222" stroke-width="1.3"/>
<line x1="394.00" y1="10.70" x2="394.00" y2="75.30" stroke="#000" stroke-width="1.5"/>
<line x1="393.20" y1="74.30" x2="510.80" y2="74.30" stroke="#000" stroke-width="1.9"/>
<line x1="414.00" y1="74.30" x2="414.00" y2="76.50" stroke="#000" stroke-width="1.2"/>
<line x1="433.70" y1="74.30" x2="433.70" y2="76.50" stroke="#000" stroke-width="1.2"/>
<line x1="452.40" y1="74.30" x2="452.40" y2="76.50" stroke="#000" stroke-width="1.2"/>
<line x1="471.50" y1="74.30" x2="471.50" y2="76.50" stroke="#000" stroke-width="1.2"/>
<line x1="492.10" y1="74.30" x2="492.10" y2="76.50" stroke="#000" stroke-width="1.2"/>
<line x1="510.20" y1="74.30" x2="510.20" y2="76.50" stroke="#000" stroke-width="1.2"/>
<line x1="392.00" y1="74.30" x2="394.00" y2="74.30" stroke="#000" stroke-width="1.2"/>
<text class="r" x="390.80" y="76.60" font-size="9.6" text-anchor="end" stroke="#000" stroke-width="0.45">0</text>
<line x1="392.00" y1="58.60" x2="394.00" y2="58.60" stroke="#000" stroke-width="1.2"/>
<text class="r" x="390.80" y="60.90" font-size="9.6" text-anchor="end" stroke="#000" stroke-width="0.45">5</text>
<line x1="392.00" y1="42.90" x2="394.00" y2="42.90" stroke="#000" stroke-width="1.2"/>
<text class="r" x="390.80" y="45.20" font-size="9.6" text-anchor="end" stroke="#000" stroke-width="0.45">10</text>
<line x1="392.00" y1="27.20" x2="394.00" y2="27.20" stroke="#000" stroke-width="1.2"/>
<text class="r" x="390.80" y="29.50" font-size="9.6" text-anchor="end" stroke="#000" stroke-width="0.45">15</text>
<line x1="392.00" y1="11.50" x2="394.00" y2="11.50" stroke="#000" stroke-width="1.2"/>
<text class="r" x="390.80" y="13.80" font-size="9.6" text-anchor="end" stroke="#000" stroke-width="0.45">20</text>
<line x1="394.00" y1="43.21" x2="510.30" y2="43.21" stroke="#111" stroke-width="1.2" stroke-dasharray="3,2.2"/>
<rect x="399.90" y="121.94" width="8.20" height="45.36" fill="#c8681f"/>
<line x1="404.00" y1="104.53" x2="404.00" y2="138.95" stroke="#222" stroke-width="1.3"/>
<line x1="402.50" y1="104.53" x2="405.50" y2="104.53" stroke="#222" stroke-width="1.3"/>
<line x1="402.50" y1="138.95" x2="405.50" y2="138.95" stroke="#222" stroke-width="1.3"/>
<rect x="437.80" y="162.03" width="8.20" height="5.27" fill="#c8681f"/>
<line x1="441.90" y1="156.77" x2="441.90" y2="162.84" stroke="#222" stroke-width="1.3"/>
<line x1="440.40" y1="156.77" x2="443.40" y2="156.77" stroke="#222" stroke-width="1.3"/>
<line x1="440.40" y1="162.84" x2="443.40" y2="162.84" stroke="#222" stroke-width="1.3"/>
<rect x="457.40" y="119.91" width="8.20" height="47.39" fill="#c8681f"/>
<line x1="461.50" y1="115.06" x2="461.50" y2="123.16" stroke="#222" stroke-width="1.3"/>
<line x1="460.00" y1="115.06" x2="463.00" y2="115.06" stroke="#222" stroke-width="1.3"/>
<line x1="460.00" y1="123.16" x2="463.00" y2="123.16" stroke="#222" stroke-width="1.3"/>
<rect x="476.80" y="162.03" width="8.20" height="5.27" fill="#c8681f"/>
<line x1="480.90" y1="161.23" x2="480.90" y2="162.84" stroke="#222" stroke-width="1.3"/>
<line x1="479.40" y1="161.23" x2="482.40" y2="161.23" stroke="#222" stroke-width="1.3"/>
<line x1="479.40" y1="162.84" x2="482.40" y2="162.84" stroke="#222" stroke-width="1.3"/>
<rect x="496.70" y="166.49" width="8.20" height="0.81" fill="#c8681f"/>
<line x1="500.80" y1="164.47" x2="500.80" y2="166.90" stroke="#222" stroke-width="1.3"/>
<line x1="499.30" y1="164.47" x2="502.30" y2="164.47" stroke="#222" stroke-width="1.3"/>
<line x1="499.30" y1="166.90" x2="502.30" y2="166.90" stroke="#222" stroke-width="1.3"/>
<line x1="394.20" y1="101.70" x2="394.20" y2="168.30" stroke="#000" stroke-width="1.5"/>
<line x1="393.40" y1="167.30" x2="510.80" y2="167.30" stroke="#000" stroke-width="1.9"/>
<line x1="414.00" y1="167.30" x2="414.00" y2="169.50" stroke="#000" stroke-width="1.2"/>
<line x1="433.70" y1="167.30" x2="433.70" y2="169.50" stroke="#000" stroke-width="1.2"/>
<line x1="452.40" y1="167.30" x2="452.40" y2="169.50" stroke="#000" stroke-width="1.2"/>
<line x1="471.50" y1="167.30" x2="471.50" y2="169.50" stroke="#000" stroke-width="1.2"/>
<line x1="492.10" y1="167.30" x2="492.10" y2="169.50" stroke="#000" stroke-width="1.2"/>
<line x1="510.20" y1="167.30" x2="510.20" y2="169.50" stroke="#000" stroke-width="1.2"/>
<line x1="392.20" y1="167.30" x2="394.20" y2="167.30" stroke="#000" stroke-width="1.2"/>
<text class="r" x="391.00" y="169.60" font-size="9.6" text-anchor="end" stroke="#000" stroke-width="0.45">0</text>
<line x1="392.20" y1="151.10" x2="394.20" y2="151.10" stroke="#000" stroke-width="1.2"/>
<text class="r" x="391.00" y="153.40" font-size="9.6" text-anchor="end" stroke="#000" stroke-width="0.45">40</text>
<line x1="392.20" y1="134.90" x2="394.20" y2="134.90" stroke="#000" stroke-width="1.2"/>
<text class="r" x="391.00" y="137.20" font-size="9.6" text-anchor="end" stroke="#000" stroke-width="0.45">80</text>
<line x1="392.20" y1="118.70" x2="394.20" y2="118.70" stroke="#000" stroke-width="1.2"/>
<text class="r" x="391.00" y="121.00" font-size="9.6" text-anchor="end" stroke="#000" stroke-width="0.45">120</text>
<line x1="392.20" y1="102.50" x2="394.20" y2="102.50" stroke="#000" stroke-width="1.2"/>
<text class="r" x="391.00" y="104.80" font-size="9.6" text-anchor="end" stroke="#000" stroke-width="0.45">160</text>
<line x1="394.20" y1="162.12" x2="510.30" y2="162.12" stroke="#111" stroke-width="1.2" stroke-dasharray="3,2.2"/>
<rect x="399.90" y="214.88" width="8.20" height="51.62" fill="#c8681f"/>
<line x1="404.00" y1="202.49" x2="404.00" y2="228.15" stroke="#222" stroke-width="1.3"/>
<line x1="402.50" y1="202.49" x2="405.50" y2="202.49" stroke="#222" stroke-width="1.3"/>
<line x1="402.50" y1="228.15" x2="405.50" y2="228.15" stroke="#222" stroke-width="1.3"/>
<rect x="419.80" y="243.93" width="8.20" height="22.57" fill="#c8681f"/>
<line x1="423.90" y1="235.97" x2="423.90" y2="252.49" stroke="#222" stroke-width="1.3"/>
<line x1="422.40" y1="235.97" x2="425.40" y2="235.97" stroke="#222" stroke-width="1.3"/>
<line x1="422.40" y1="252.49" x2="425.40" y2="252.49" stroke="#222" stroke-width="1.3"/>
<rect x="437.80" y="239.51" width="8.20" height="26.99" fill="#c8681f"/>
<line x1="441.90" y1="234.49" x2="441.90" y2="244.97" stroke="#222" stroke-width="1.3"/>
<line x1="440.40" y1="234.49" x2="443.40" y2="234.49" stroke="#222" stroke-width="1.3"/>
<line x1="440.40" y1="244.97" x2="443.40" y2="244.97" stroke="#222" stroke-width="1.3"/>
<rect x="457.40" y="243.93" width="8.20" height="22.57" fill="#c8681f"/>
<line x1="461.50" y1="242.01" x2="461.50" y2="246.00" stroke="#222" stroke-width="1.3"/>
<line x1="460.00" y1="242.01" x2="463.00" y2="242.01" stroke="#222" stroke-width="1.3"/>
<line x1="460.00" y1="246.00" x2="463.00" y2="246.00" stroke="#222" stroke-width="1.3"/>
<rect x="476.80" y="266.20" width="8.20" height="0.30" fill="#c8681f"/>
<rect x="496.70" y="263.99" width="8.20" height="2.51" fill="#c8681f"/>
<line x1="500.80" y1="259.42" x2="500.80" y2="266.50" stroke="#222" stroke-width="1.3"/>
<line x1="499.30" y1="259.42" x2="502.30" y2="259.42" stroke="#222" stroke-width="1.3"/>
<line x1="499.30" y1="266.50" x2="502.30" y2="266.50" stroke="#222" stroke-width="1.3"/>
<line x1="394.20" y1="206.70" x2="394.20" y2="267.50" stroke="#000" stroke-width="1.5"/>
<line x1="393.40" y1="266.50" x2="510.80" y2="266.50" stroke="#000" stroke-width="1.9"/>
<line x1="414.00" y1="266.50" x2="414.00" y2="268.70" stroke="#000" stroke-width="1.2"/>
<line x1="433.70" y1="266.50" x2="433.70" y2="268.70" stroke="#000" stroke-width="1.2"/>
<line x1="452.40" y1="266.50" x2="452.40" y2="268.70" stroke="#000" stroke-width="1.2"/>
<line x1="471.50" y1="266.50" x2="471.50" y2="268.70" stroke="#000" stroke-width="1.2"/>
<line x1="492.10" y1="266.50" x2="492.10" y2="268.70" stroke="#000" stroke-width="1.2"/>
<line x1="510.20" y1="266.50" x2="510.20" y2="268.70" stroke="#000" stroke-width="1.2"/>
<line x1="392.20" y1="266.50" x2="394.20" y2="266.50" stroke="#000" stroke-width="1.2"/>
<text class="r" x="391.00" y="268.80" font-size="9.6" text-anchor="end" stroke="#000" stroke-width="0.45">0</text>
<line x1="392.20" y1="251.75" x2="394.20" y2="251.75" stroke="#000" stroke-width="1.2"/>
<text class="r" x="391.00" y="254.05" font-size="9.6" text-anchor="end" stroke="#000" stroke-width="0.45">10</text>
<line x1="392.20" y1="237.00" x2="394.20" y2="237.00" stroke="#000" stroke-width="1.2"/>
<text class="r" x="391.00" y="239.30" font-size="9.6" text-anchor="end" stroke="#000" stroke-width="0.45">20</text>
<line x1="392.20" y1="222.25" x2="394.20" y2="222.25" stroke="#000" stroke-width="1.2"/>
<text class="r" x="391.00" y="224.55" font-size="9.6" text-anchor="end" stroke="#000" stroke-width="0.45">30</text>
<line x1="392.20" y1="207.50" x2="394.20" y2="207.50" stroke="#000" stroke-width="1.2"/>
<text class="r" x="391.00" y="209.80" font-size="9.6" text-anchor="end" stroke="#000" stroke-width="0.45">40</text>
<line x1="394.20" y1="251.75" x2="510.30" y2="251.75" stroke="#111" stroke-width="1.2" stroke-dasharray="3,2.2"/>
<rect x="399.90" y="294.04" width="8.20" height="56.96" fill="#c8681f"/>
<line x1="404.00" y1="290.01" x2="404.00" y2="299.07" stroke="#222" stroke-width="1.3"/>
<line x1="402.50" y1="290.01" x2="405.50" y2="290.01" stroke="#222" stroke-width="1.3"/>
<line x1="402.50" y1="299.07" x2="405.50" y2="299.07" stroke="#222" stroke-width="1.3"/>
<rect x="419.80" y="321.01" width="8.20" height="29.99" fill="#c8681f"/>
<line x1="423.90" y1="312.25" x2="423.90" y2="331.00" stroke="#222" stroke-width="1.3"/>
<line x1="422.40" y1="312.25" x2="425.40" y2="312.25" stroke="#222" stroke-width="1.3"/>
<line x1="422.40" y1="331.00" x2="425.40" y2="331.00" stroke="#222" stroke-width="1.3"/>
<rect x="437.80" y="306.05" width="8.20" height="44.95" fill="#c8681f"/>
<line x1="441.90" y1="301.01" x2="441.90" y2="312.02" stroke="#222" stroke-width="1.3"/>
<line x1="440.40" y1="301.01" x2="443.40" y2="301.01" stroke="#222" stroke-width="1.3"/>
<line x1="440.40" y1="312.02" x2="443.40" y2="312.02" stroke="#222" stroke-width="1.3"/>
<rect x="457.40" y="337.51" width="8.20" height="13.49" fill="#c8681f"/>
<line x1="461.50" y1="337.13" x2="461.50" y2="337.90" stroke="#222" stroke-width="1.3"/>
<line x1="460.00" y1="337.13" x2="463.00" y2="337.13" stroke="#222" stroke-width="1.3"/>
<line x1="460.00" y1="337.90" x2="463.00" y2="337.90" stroke="#222" stroke-width="1.3"/>
<rect x="476.80" y="345.96" width="8.20" height="5.04" fill="#c8681f"/>
<line x1="480.90" y1="341.00" x2="480.90" y2="351.00" stroke="#222" stroke-width="1.3"/>
<line x1="479.40" y1="341.00" x2="482.40" y2="341.00" stroke="#222" stroke-width="1.3"/>
<line x1="479.40" y1="351.00" x2="482.40" y2="351.00" stroke="#222" stroke-width="1.3"/>
<rect x="496.70" y="345.42" width="8.20" height="5.58" fill="#c8681f"/>
<line x1="500.80" y1="339.61" x2="500.80" y2="351.00" stroke="#222" stroke-width="1.3"/>
<line x1="499.30" y1="339.61" x2="502.30" y2="339.61" stroke="#222" stroke-width="1.3"/>
<line x1="499.30" y1="351.00" x2="502.30" y2="351.00" stroke="#222" stroke-width="1.3"/>
<line x1="394.30" y1="288.20" x2="394.30" y2="352.00" stroke="#000" stroke-width="1.5"/>
<line x1="393.50" y1="351.00" x2="510.80" y2="351.00" stroke="#000" stroke-width="1.9"/>
<line x1="414.00" y1="351.00" x2="414.00" y2="353.20" stroke="#000" stroke-width="1.2"/>
<line x1="433.70" y1="351.00" x2="433.70" y2="353.20" stroke="#000" stroke-width="1.2"/>
<line x1="452.40" y1="351.00" x2="452.40" y2="353.20" stroke="#000" stroke-width="1.2"/>
<line x1="471.50" y1="351.00" x2="471.50" y2="353.20" stroke="#000" stroke-width="1.2"/>
<line x1="492.10" y1="351.00" x2="492.10" y2="353.20" stroke="#000" stroke-width="1.2"/>
<line x1="510.20" y1="351.00" x2="510.20" y2="353.20" stroke="#000" stroke-width="1.2"/>
<line x1="392.30" y1="351.00" x2="394.30" y2="351.00" stroke="#000" stroke-width="1.2"/>
<text class="r" x="391.10" y="353.30" font-size="9.6" text-anchor="end" stroke="#000" stroke-width="0.45">0</text>
<line x1="392.30" y1="335.50" x2="394.30" y2="335.50" stroke="#000" stroke-width="1.2"/>
<text class="r" x="391.10" y="337.80" font-size="9.6" text-anchor="end" stroke="#000" stroke-width="0.45">20</text>
<line x1="392.30" y1="320.00" x2="394.30" y2="320.00" stroke="#000" stroke-width="1.2"/>
<text class="r" x="391.10" y="322.30" font-size="9.6" text-anchor="end" stroke="#000" stroke-width="0.45">40</text>
<line x1="392.30" y1="304.50" x2="394.30" y2="304.50" stroke="#000" stroke-width="1.2"/>
<text class="r" x="391.10" y="306.80" font-size="9.6" text-anchor="end" stroke="#000" stroke-width="0.45">60</text>
<line x1="392.30" y1="289.00" x2="394.30" y2="289.00" stroke="#000" stroke-width="1.2"/>
<text class="r" x="391.10" y="291.30" font-size="9.6" text-anchor="end" stroke="#000" stroke-width="0.45">80</text>
<line x1="394.30" y1="343.02" x2="510.30" y2="343.02" stroke="#111" stroke-width="1.2" stroke-dasharray="3,2.2"/>
<rect x="399.90" y="438.02" width="8.20" height="5.48" fill="#c8681f"/>
<line x1="404.00" y1="437.51" x2="404.00" y2="438.65" stroke="#222" stroke-width="1.3"/>
<line x1="402.50" y1="437.51" x2="405.50" y2="437.51" stroke="#222" stroke-width="1.3"/>
<line x1="402.50" y1="438.65" x2="405.50" y2="438.65" stroke="#222" stroke-width="1.3"/>
<rect x="419.80" y="407.54" width="8.20" height="35.96" fill="#c8681f"/>
<line x1="423.90" y1="381.28" x2="423.90" y2="433.80" stroke="#222" stroke-width="1.3"/>
<line x1="422.40" y1="381.28" x2="425.40" y2="381.28" stroke="#222" stroke-width="1.3"/>
<line x1="422.40" y1="433.80" x2="425.40" y2="433.80" stroke="#222" stroke-width="1.3"/>
<rect x="437.80" y="420.67" width="8.20" height="22.83" fill="#c8681f"/>
<line x1="441.90" y1="412.68" x2="441.90" y2="427.52" stroke="#222" stroke-width="1.3"/>
<line x1="440.40" y1="412.68" x2="443.40" y2="412.68" stroke="#222" stroke-width="1.3"/>
<line x1="440.40" y1="427.52" x2="443.40" y2="427.52" stroke="#222" stroke-width="1.3"/>
<rect x="457.40" y="438.48" width="8.20" height="5.02" fill="#c8681f"/>
<line x1="461.50" y1="437.79" x2="461.50" y2="439.22" stroke="#222" stroke-width="1.3"/>
<line x1="460.00" y1="437.79" x2="463.00" y2="437.79" stroke="#222" stroke-width="1.3"/>
<line x1="460.00" y1="439.22" x2="463.00" y2="439.22" stroke="#222" stroke-width="1.3"/>
<rect x="476.80" y="441.50" width="8.20" height="2.00" fill="#c8681f"/>
<line x1="480.90" y1="440.07" x2="480.90" y2="442.64" stroke="#222" stroke-width="1.3"/>
<line x1="479.40" y1="440.07" x2="482.40" y2="440.07" stroke="#222" stroke-width="1.3"/>
<line x1="479.40" y1="442.64" x2="482.40" y2="442.64" stroke="#222" stroke-width="1.3"/>
<rect x="496.70" y="421.81" width="8.20" height="21.69" fill="#c8681f"/>
<line x1="500.80" y1="406.97" x2="500.80" y2="436.08" stroke="#222" stroke-width="1.3"/>
<line x1="499.30" y1="406.97" x2="502.30" y2="406.97" stroke="#222" stroke-width="1.3"/>
<line x1="499.30" y1="436.08" x2="502.30" y2="436.08" stroke="#222" stroke-width="1.3"/>
<line x1="394.60" y1="374.20" x2="394.60" y2="444.50" stroke="#000" stroke-width="1.5"/>
<line x1="393.80" y1="443.50" x2="510.80" y2="443.50" stroke="#000" stroke-width="1.9"/>
<line x1="414.00" y1="443.50" x2="414.00" y2="445.70" stroke="#000" stroke-width="1.2"/>
<line x1="433.70" y1="443.50" x2="433.70" y2="445.70" stroke="#000" stroke-width="1.2"/>
<line x1="452.40" y1="443.50" x2="452.40" y2="445.70" stroke="#000" stroke-width="1.2"/>
<line x1="471.50" y1="443.50" x2="471.50" y2="445.70" stroke="#000" stroke-width="1.2"/>
<line x1="492.10" y1="443.50" x2="492.10" y2="445.70" stroke="#000" stroke-width="1.2"/>
<line x1="510.20" y1="443.50" x2="510.20" y2="445.70" stroke="#000" stroke-width="1.2"/>
<line x1="392.60" y1="443.50" x2="394.60" y2="443.50" stroke="#000" stroke-width="1.2"/>
<text class="r" x="391.40" y="445.80" font-size="9.6" text-anchor="end" stroke="#000" stroke-width="0.45">0</text>
<line x1="392.60" y1="432.08" x2="394.60" y2="432.08" stroke="#000" stroke-width="1.2"/>
<text class="r" x="391.40" y="434.38" font-size="9.6" text-anchor="end" stroke="#000" stroke-width="0.45">20</text>
<line x1="392.60" y1="420.67" x2="394.60" y2="420.67" stroke="#000" stroke-width="1.2"/>
<text class="r" x="391.40" y="422.97" font-size="9.6" text-anchor="end" stroke="#000" stroke-width="0.45">40</text>
<line x1="392.60" y1="409.25" x2="394.60" y2="409.25" stroke="#000" stroke-width="1.2"/>
<text class="r" x="391.40" y="411.55" font-size="9.6" text-anchor="end" stroke="#000" stroke-width="0.45">60</text>
<line x1="392.60" y1="397.83" x2="394.60" y2="397.83" stroke="#000" stroke-width="1.2"/>
<text class="r" x="391.40" y="400.13" font-size="9.6" text-anchor="end" stroke="#000" stroke-width="0.45">80</text>
<line x1="392.60" y1="386.42" x2="394.60" y2="386.42" stroke="#000" stroke-width="1.2"/>
<text class="r" x="391.40" y="388.72" font-size="9.6" text-anchor="end" stroke="#000" stroke-width="0.45">100</text>
<line x1="392.60" y1="375.00" x2="394.60" y2="375.00" stroke="#000" stroke-width="1.2"/>
<text class="r" x="391.40" y="377.30" font-size="9.6" text-anchor="end" stroke="#000" stroke-width="0.45">120</text>
<line x1="394.60" y1="438.36" x2="510.30" y2="438.36" stroke="#111" stroke-width="1.2" stroke-dasharray="3,2.2"/>
<rect x="399.90" y="523.06" width="8.20" height="0.74" fill="#c8681f"/>
<line x1="404.00" y1="522.69" x2="404.00" y2="523.43" stroke="#222" stroke-width="1.3"/>
<line x1="402.50" y1="522.69" x2="405.50" y2="522.69" stroke="#222" stroke-width="1.3"/>
<line x1="402.50" y1="523.43" x2="405.50" y2="523.43" stroke="#222" stroke-width="1.3"/>
<rect x="419.80" y="518.02" width="8.20" height="5.78" fill="#c8681f"/>
<line x1="423.90" y1="516.76" x2="423.90" y2="519.35" stroke="#222" stroke-width="1.3"/>
<line x1="422.40" y1="516.76" x2="425.40" y2="516.76" stroke="#222" stroke-width="1.3"/>
<line x1="422.40" y1="519.35" x2="425.40" y2="519.35" stroke="#222" stroke-width="1.3"/>
<rect x="437.80" y="519.72" width="8.20" height="4.08" fill="#c8681f"/>
<line x1="441.90" y1="516.46" x2="441.90" y2="522.32" stroke="#222" stroke-width="1.3"/>
<line x1="440.40" y1="516.46" x2="443.40" y2="516.46" stroke="#222" stroke-width="1.3"/>
<line x1="440.40" y1="522.32" x2="443.40" y2="522.32" stroke="#222" stroke-width="1.3"/>
<rect x="457.40" y="481.55" width="8.20" height="42.25" fill="#c8681f"/>
<line x1="461.50" y1="473.02" x2="461.50" y2="491.19" stroke="#222" stroke-width="1.3"/>
<line x1="460.00" y1="473.02" x2="463.00" y2="473.02" stroke="#222" stroke-width="1.3"/>
<line x1="460.00" y1="491.19" x2="463.00" y2="491.19" stroke="#222" stroke-width="1.3"/>
<rect x="476.80" y="518.69" width="8.20" height="5.11" fill="#c8681f"/>
<line x1="480.90" y1="515.65" x2="480.90" y2="521.58" stroke="#222" stroke-width="1.3"/>
<line x1="479.40" y1="515.65" x2="482.40" y2="515.65" stroke="#222" stroke-width="1.3"/>
<line x1="479.40" y1="521.58" x2="482.40" y2="521.58" stroke="#222" stroke-width="1.3"/>
<rect x="496.70" y="512.38" width="8.20" height="11.42" fill="#c8681f"/>
<line x1="500.80" y1="499.71" x2="500.80" y2="523.80" stroke="#222" stroke-width="1.3"/>
<line x1="499.30" y1="499.71" x2="502.30" y2="499.71" stroke="#222" stroke-width="1.3"/>
<line x1="499.30" y1="523.80" x2="502.30" y2="523.80" stroke="#222" stroke-width="1.3"/>
<line x1="395.00" y1="463.70" x2="395.00" y2="524.80" stroke="#000" stroke-width="1.5"/>
<line x1="394.20" y1="523.80" x2="510.80" y2="523.80" stroke="#000" stroke-width="1.9"/>
<line x1="414.00" y1="523.80" x2="414.00" y2="526.00" stroke="#000" stroke-width="1.2"/>
<line x1="433.70" y1="523.80" x2="433.70" y2="526.00" stroke="#000" stroke-width="1.2"/>
<line x1="452.40" y1="523.80" x2="452.40" y2="526.00" stroke="#000" stroke-width="1.2"/>
<line x1="471.50" y1="523.80" x2="471.50" y2="526.00" stroke="#000" stroke-width="1.2"/>
<line x1="492.10" y1="523.80" x2="492.10" y2="526.00" stroke="#000" stroke-width="1.2"/>
<line x1="510.20" y1="523.80" x2="510.20" y2="526.00" stroke="#000" stroke-width="1.2"/>
<line x1="393.00" y1="523.80" x2="395.00" y2="523.80" stroke="#000" stroke-width="1.2"/>
<text class="r" x="391.80" y="526.10" font-size="9.6" text-anchor="end" stroke="#000" stroke-width="0.45">0</text>
<line x1="393.00" y1="508.97" x2="395.00" y2="508.97" stroke="#000" stroke-width="1.2"/>
<text class="r" x="391.80" y="511.27" font-size="9.6" text-anchor="end" stroke="#000" stroke-width="0.45">20</text>
<line x1="393.00" y1="494.15" x2="395.00" y2="494.15" stroke="#000" stroke-width="1.2"/>
<text class="r" x="391.80" y="496.45" font-size="9.6" text-anchor="end" stroke="#000" stroke-width="0.45">40</text>
<line x1="393.00" y1="479.32" x2="395.00" y2="479.32" stroke="#000" stroke-width="1.2"/>
<text class="r" x="391.80" y="481.62" font-size="9.6" text-anchor="end" stroke="#000" stroke-width="0.45">60</text>
<line x1="393.00" y1="464.50" x2="395.00" y2="464.50" stroke="#000" stroke-width="1.2"/>
<text class="r" x="391.80" y="466.80" font-size="9.6" text-anchor="end" stroke="#000" stroke-width="0.45">80</text>
<line x1="395.00" y1="516.50" x2="510.30" y2="516.50" stroke="#111" stroke-width="1.2" stroke-dasharray="3,2.2"/>
<rect x="491.90" y="142.90" width="1.60" height="1.60" fill="#111"/>
<rect x="491.90" y="238.40" width="1.60" height="1.60" fill="#111"/>
<rect x="492.50" y="322.10" width="1.60" height="1.60" fill="#111"/>
<rect x="491.90" y="417.10" width="1.60" height="1.60" fill="#111"/>
<text class="b" transform="translate(193.40,42.50) rotate(-90) scale(1,0.93)" font-size="12" text-anchor="middle" stroke="#000" stroke-width="0.35">Relative</text>
<text class="b" transform="translate(203.00,42.50) rotate(-90) scale(1,0.93)" font-size="12" text-anchor="middle" stroke="#000" stroke-width="0.35">enrichment</text>
<text class="b" transform="translate(212.50,42.50) rotate(-90) scale(1,0.93)" font-size="12" text-anchor="middle" stroke="#000" stroke-width="0.35">overneutrophils</text>
<text class="b" transform="translate(197.00,133.30) rotate(-90) scale(1,0.93)" font-size="12" text-anchor="middle" stroke="#000" stroke-width="0.35">Relative</text>
<text class="b" transform="translate(206.60,133.30) rotate(-90) scale(1,0.93)" font-size="12" text-anchor="middle" stroke="#000" stroke-width="0.35">enrichment</text>
<text class="b" transform="translate(216.20,133.30) rotate(-90) scale(1,0.93)" font-size="12" text-anchor="middle" stroke="#000" stroke-width="0.35">over neutrophils</text>
<text class="b" transform="translate(201.00,224.00) rotate(-90) scale(1,0.93)" font-size="12" text-anchor="middle" stroke="#000" stroke-width="0.35">Relative</text>
<text class="b" transform="translate(210.60,224.00) rotate(-90) scale(1,0.93)" font-size="12" text-anchor="middle" stroke="#000" stroke-width="0.35">enrichment</text>
<text class="b" transform="translate(220.00,224.00) rotate(-90) scale(1,0.93)" font-size="12" text-anchor="middle" stroke="#000" stroke-width="0.35">over neutrophils</text>
<text class="b" transform="translate(200.30,314.50) rotate(-90) scale(1,0.93)" font-size="12" text-anchor="middle" stroke="#000" stroke-width="0.35">Relative</text>
<text class="b" transform="translate(210.00,314.50) rotate(-90) scale(1,0.93)" font-size="12" text-anchor="middle" stroke="#000" stroke-width="0.35">enrichment</text>
<text class="b" transform="translate(219.70,314.50) rotate(-90) scale(1,0.93)" font-size="12" text-anchor="middle" stroke="#000" stroke-width="0.35">over neutrophils</text>
<text class="b" transform="translate(200.30,404.00) rotate(-90) scale(1,0.93)" font-size="12" text-anchor="middle" stroke="#000" stroke-width="0.35">Relative</text>
<text class="b" transform="translate(209.90,404.00) rotate(-90) scale(1,0.93)" font-size="12" text-anchor="middle" stroke="#000" stroke-width="0.35">enrichment</text>
<text class="b" transform="translate(219.40,404.00) rotate(-90) scale(1,0.93)" font-size="12" text-anchor="middle" stroke="#000" stroke-width="0.35">over neutrophils</text>
<text class="b" transform="translate(200.30,489.00) rotate(-90) scale(1,0.93)" font-size="12" text-anchor="middle" stroke="#000" stroke-width="0.35">Relative</text>
<text class="b" transform="translate(209.90,489.00) rotate(-90) scale(1,0.93)" font-size="12" text-anchor="middle" stroke="#000" stroke-width="0.35">enrichment</text>
<text class="b" transform="translate(219.30,489.00) rotate(-90) scale(1,0.93)" font-size="12" text-anchor="middle" stroke="#000" stroke-width="0.35">over B cells</text>
<text class="b" transform="translate(370.10,43.00) rotate(-90)" font-size="12" text-anchor="middle" stroke="#000" stroke-width="0.35">Normalized</text>
<text class="b" transform="translate(379.30,43.00) rotate(-90)" font-size="12" text-anchor="middle" stroke="#000" stroke-width="0.35">TPM</text>
<text class="b" transform="translate(369.60,134.00) rotate(-90)" font-size="12" text-anchor="middle" stroke="#000" stroke-width="0.35">Normalized</text>
<text class="b" transform="translate(378.80,134.00) rotate(-90)" font-size="12" text-anchor="middle" stroke="#000" stroke-width="0.35">TPM</text>
<text class="b" transform="translate(369.60,235.50) rotate(-90)" font-size="12" text-anchor="middle" stroke="#000" stroke-width="0.35">Normalized</text>
<text class="b" transform="translate(378.80,235.50) rotate(-90)" font-size="12" text-anchor="middle" stroke="#000" stroke-width="0.35">TPM</text>
<text class="b" transform="translate(369.60,318.00) rotate(-90)" font-size="12" text-anchor="middle" stroke="#000" stroke-width="0.35">Normalized</text>
<text class="b" transform="translate(378.80,318.00) rotate(-90)" font-size="12" text-anchor="middle" stroke="#000" stroke-width="0.35">TPM</text>
<text class="b" transform="translate(369.60,410.50) rotate(-90)" font-size="12" text-anchor="middle" stroke="#000" stroke-width="0.35">Normalized</text>
<text class="b" transform="translate(378.80,410.50) rotate(-90)" font-size="12" text-anchor="middle" stroke="#000" stroke-width="0.35">TPM</text>
<text class="b" transform="translate(369.60,486.00) rotate(-90)" font-size="12" text-anchor="middle" stroke="#000" stroke-width="0.35">Normalized</text>
<text class="b" transform="translate(378.80,486.00) rotate(-90)" font-size="12" text-anchor="middle" stroke="#000" stroke-width="0.35">TPM</text>
<text class="b" transform="translate(510.60,44.50) rotate(90)" font-size="13.3" text-anchor="middle" stroke="#000" stroke-width="0.45">DPF3</text>
<text class="b" transform="translate(510.60,127.30) rotate(90)" font-size="13.3" text-anchor="middle" stroke="#000" stroke-width="0.45">HDAC9</text>
<text class="b" transform="translate(510.60,228.30) rotate(90)" font-size="13.3" text-anchor="middle" stroke="#000" stroke-width="0.45">CHD1L</text>
<text class="b" transform="translate(510.60,311.00) rotate(90)" font-size="13.3" text-anchor="middle" stroke="#000" stroke-width="0.45">KDM2B</text>
<text class="b" transform="translate(510.60,400.00) rotate(90)" font-size="13.3" text-anchor="middle" stroke="#000" stroke-width="0.45">CHD3</text>
<text class="b" transform="translate(510.60,484.00) rotate(90)" font-size="13.3" text-anchor="middle" stroke="#000" stroke-width="0.45">SMARCD3</text>
<text class="b" transform="translate(248.40,524.30) rotate(-90)" font-size="13" text-anchor="end" stroke="#000" stroke-width="0.35">B cells</text>
<text class="b" transform="translate(407.70,531.00) rotate(-90)" font-size="13" text-anchor="end" stroke="#000" stroke-width="0.35">B cells</text>
<text class="b" transform="translate(268.10,524.30) rotate(-90)" font-size="13" text-anchor="end" stroke="#000" stroke-width="0.35">CD4+ T cells</text>
<text class="b" transform="translate(427.60,531.00) rotate(-90)" font-size="13" text-anchor="end" stroke="#000" stroke-width="0.35">CD4+ T cells</text>
<text class="b" transform="translate(287.80,524.30) rotate(-90)" font-size="13" text-anchor="end" stroke="#000" stroke-width="0.35">NK cells</text>
<text class="b" transform="translate(445.60,531.00) rotate(-90)" font-size="13" text-anchor="end" stroke="#000" stroke-width="0.35">NK cells</text>
<text class="b" transform="translate(307.50,524.30) rotate(-90)" font-size="13" text-anchor="end" stroke="#000" stroke-width="0.35">Monocytes</text>
<text class="b" transform="translate(465.20,531.00) rotate(-90)" font-size="13" text-anchor="end" stroke="#000" stroke-width="0.35">Monocytes</text>
<text class="b" transform="translate(327.20,524.30) rotate(-90)" font-size="13" text-anchor="end" stroke="#000" stroke-width="0.35">Neutrophils</text>
<text class="b" transform="translate(484.60,531.00) rotate(-90)" font-size="13" text-anchor="end" stroke="#000" stroke-width="0.35">Neutrophils</text>
<text class="b" transform="translate(346.90,524.30) rotate(-90)" font-size="13" text-anchor="end" stroke="#000" stroke-width="0.35">Eosinophils</text>
<text class="b" transform="translate(504.50,531.00) rotate(-90)" font-size="13" text-anchor="end" stroke="#000" stroke-width="0.35">Eosinophils</text>
<line x1="6.00" y1="608.00" x2="356.30" y2="608.00" stroke="#000" stroke-width="2"/>
<line x1="368.60" y1="608.00" x2="512.00" y2="608.00" stroke="#000" stroke-width="2"/>
<text class="b" x="182.00" y="626.50" font-size="13" text-anchor="middle" stroke="#000" stroke-width="0.35">RT qPCR</text>
<text class="b" x="440.50" y="626.50" font-size="13" text-anchor="middle" stroke="#000" stroke-width="0.35">CAGE</text>
</svg>
</body></html>
